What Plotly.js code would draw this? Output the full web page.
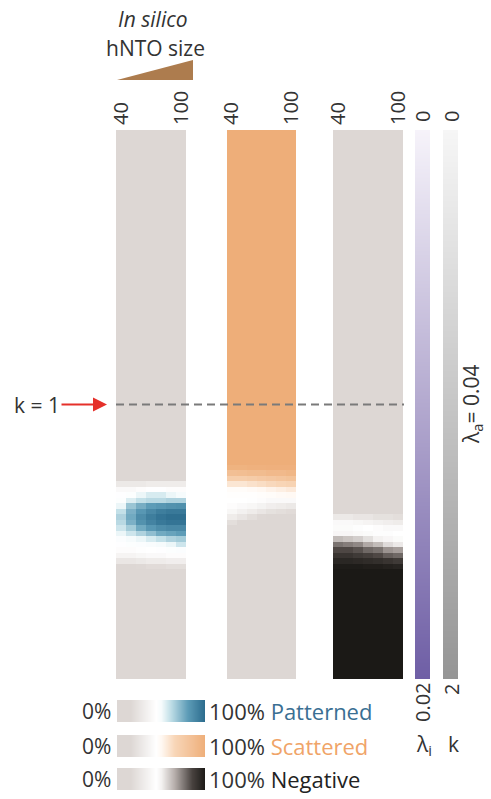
<!DOCTYPE html>
<html><head><meta charset="utf-8">
<script src="https://cdn.plot.ly/plotly-3.0.1.min.js"></script>
<style>html,body{margin:0;padding:0;background:#fff}#chart{width:491px;height:799px}</style>
</head><body><div id="chart"></div>
<script>
// ---------- data ----------
const sizes = [40, 50, 60, 70, 80, 90, 100];          // in silico hNTO size
const sizeTicks = [40, 100];
// k bin edges (rows); fine rows only where the outcome changes
const kEdges = [0, 1.2, 1.22, 1.24, 1.26, 1.28, 1.30, 1.32, 1.34, 1.36, 1.38, 1.40,
                1.42, 1.44, 1.46, 1.48, 1.50, 1.52, 1.54, 1.56, 1.58, 1.60, 1.62, 2.0];
// percent of simulations (0..100)
const patterned = [
  [0,0,0,0,0,0,0],
  [0,0,0,0,0,0,0],
  [0,0,0,0,0,0,0],
  [5,5,5,5,5,5,5],
  [15,15,15,15,15,15,15],
  [28,28,28,30,30,30,30],
  [40,40,42,45,45,42,42],
  [45,46,52,56,56,52,50],
  [46,55,60,62,62,64,64],
  [52,68,75,80,82,84,85],
  [60,74,82,88,92,94,94],
  [64,76,86,92,96,98,98],
  [62,74,84,90,94,96,96],
  [58,66,76,82,86,88,88],
  [52,58,64,70,76,78,80],
  [47,50,52,56,60,64,66],
  [45,46,47,48,50,52,58],
  [42,42,43,44,45,46,47],
  [36,36,38,40,40,42,42],
  [26,26,28,30,30,32,32],
  [14,14,16,18,18,20,20],
  [5,5,6,8,8,10,10],
  [0,0,0,0,0,0,0]
];
const scattered = [
  [100,100,100,100,100,100,100],
  [100,100,100,100,100,100,100],
  [96,96,97,97,98,98,98],
  [85,86,88,88,90,90,92],
  [72,72,74,76,78,80,82],
  [58,58,60,62,64,66,68],
  [47,47,48,50,52,54,56],
  [45,45,45,46,47,48,49],
  [44,44,43,42,40,40,40],
  [42,40,38,35,32,30,28],
  [38,34,30,26,22,20,18],
  [30,25,20,16,12,10,8],
  [20,15,10,8,5,4,3],
  [8,5,3,2,0,0,0],
  [0,0,0,0,0,0,0],
  [0,0,0,0,0,0,0],
  [0,0,0,0,0,0,0],
  [0,0,0,0,0,0,0],
  [0,0,0,0,0,0,0],
  [0,0,0,0,0,0,0],
  [0,0,0,0,0,0,0],
  [0,0,0,0,0,0,0],
  [0,0,0,0,0,0,0]
];
const negative = [
  [0,0,0,0,0,0,0],
  [0,0,0,0,0,0,0],
  [0,0,0,0,0,0,0],
  [0,0,0,0,0,0,0],
  [0,0,0,0,0,0,0],
  [0,0,0,0,0,0,0],
  [0,0,0,0,0,0,0],
  [0,0,0,0,0,0,0],
  [0,0,0,0,0,0,0],
  [5,5,5,5,5,5,5],
  [15,15,12,12,10,10,10],
  [28,28,25,25,22,22,20],
  [40,40,38,36,34,32,30],
  [46,46,45,44,42,40,40],
  [48,48,47,46,45,45,44],
  [62,60,58,54,50,48,46],
  [76,74,72,66,62,55,52],
  [84,84,82,78,76,70,68],
  [90,90,88,86,84,80,78],
  [95,95,94,93,92,90,88],
  [99,99,99,98,98,97,96],
  [100,100,100,100,100,100,100],
  [100,100,100,100,100,100,100]
];
const lambdaI = [0, 0.02];     // lambda_i scale (top -> bottom)
const kScale = [0, 2];         // k scale (top -> bottom)
const legendPct = [0, 100];
const outcomeNames = ['Patterned', 'Scattered', 'Negative'];

// ---------- styling ----------
const W = 491, H = 799;
const px = v => v / W;
const py = v => 1 - v / H;
const GRAY = '#ddd7d4';
const csPatterned = [[0,GRAY],[0.15,GRAY],[0.44,'#ffffff'],[0.5,'#f6fbfc'],[0.6,'#c3e0e8'],[0.8,'#5d9cb7'],[1,'#2a6a8c']];
const csScattered = [[0,GRAY],[0.15,GRAY],[0.44,'#ffffff'],[0.5,'#fff8f2'],[0.65,'#f8d6b8'],[1,'#eeae79']];
const csNegative  = [[0,GRAY],[0.15,GRAY],[0.44,'#ffffff'],[0.5,'#f4f2f1'],[0.65,'#b6aeab'],[0.85,'#48423f'],[1,'#1b1916']];
const csLambda = [[0,'#f6f3fa'],[0.5,'#b3a9cf'],[1,'#6e5ea5']];
const csK = [[0,'#f6f6f6'],[1,'#959595']];
const outcomeColors = ['#3a6f93', '#f0a468', '#222222'];
const TXT = '#333333';
const FONT = 'Open Sans';

function panel(z, cs, xa) {
  return {type:'heatmap', x: sizes, y: kEdges, z: z, colorscale: cs, zmin: 0, zmax: 100,
          showscale: false, xaxis: xa, yaxis: 'y', hoverinfo: 'skip'};
}
const traces = [
  panel(patterned, csPatterned, 'x'),
  panel(scattered, csScattered, 'x2'),
  panel(negative, csNegative, 'x3'),
  {type:'heatmap', x:[0], y: lambdaI, z: lambdaI.map(v => [v]), colorscale: csLambda,
   zmin: lambdaI[0], zmax: lambdaI[1], zsmooth:'best', showscale:false, xaxis:'x4', yaxis:'y2', hoverinfo:'skip'},
  {type:'heatmap', x:[0], y: kScale, z: kScale.map(v => [v]), colorscale: csK,
   zmin: kScale[0], zmax: kScale[1], zsmooth:'best', showscale:false, xaxis:'x5', yaxis:'y', hoverinfo:'skip'},
];
const legCs = [csPatterned, csScattered, csNegative];
legCs.forEach((cs, i) => {
  traces.push({type:'heatmap', x: legendPct, y:[0], z:[legendPct], colorscale: cs, zmin:0, zmax:100,
    zsmooth:'best', showscale:false, xaxis:'x6', yaxis: 'y' + (3 + i), hoverinfo:'skip'});
});

const hidden = {visible:false, showgrid:false, zeroline:false};
const panelX = dom => ({domain: dom, range:[35,105], anchor:'y', side:'top', tickmode:'array',
  tickvals: sizeTicks, ticktext: sizeTicks.map(String), tickangle:-90, ticks:'', showgrid:false,
  zeroline:false, showline:false, ticklabelstandoff:4,
  tickfont:{size:20, color:TXT, family:FONT}, fixedrange:true});
const panelDom = [py(679), py(130)];
const legRows = [[700,722],[735,757],[768,790]];

const annotations = [
  {text:'<i>In silico</i>', x:px(153), y:py(19), font:{size:21}},
  {text:'hNTO size', x:px(155), y:py(48), font:{size:21}},
  {text:'k = 1', x:px(107), y:1, yref:'y', showarrow:true, ax:-70, ay:0, arrowhead:2,
   arrowsize:1.4, arrowwidth:2, arrowcolor:'#e5302a', font:{size:21}},
  {text:'0', x:px(422), y:py(117), textangle:-90, font:{size:20}},
  {text:'0', x:px(451), y:py(117), textangle:-90, font:{size:20}},
  {text:'0.02', x:px(422), y:py(702), textangle:-90, font:{size:20}},
  {text:'2', x:px(451), y:py(690), textangle:-90, font:{size:20}},
  {text:'λ<sub>i</sub>', x:px(424), y:py(745), font:{size:21}},
  {text:'k', x:px(453), y:py(744), font:{size:21}},
  {text:'λ<sub>a</sub>= 0.04', x:px(472), y:py(405), textangle:-90, font:{size:21}},
];
legRows.forEach((r, i) => {
  const yc = py((r[0] + r[1]) / 2);
  annotations.push({text:'0%', x:px(113), y:yc, xanchor:'right', font:{size:21}});
  annotations.push({text:'100% <span style="color:' + outcomeColors[i] + '">' + outcomeNames[i] + '</span>',
    x:px(207), y:yc, xanchor:'left', font:{size:22}});
});
annotations.forEach(a => {
  a.xref = a.xref || 'paper'; a.yref = a.yref || 'paper';
  a.xanchor = a.xanchor || 'center'; a.yanchor = a.yanchor || 'middle';
  if (!a.showarrow) a.showarrow = false;
  a.font = Object.assign({family:FONT, color:TXT}, a.font);
});

const layout = {
  width: W, height: H, margin:{l:0, r:0, t:0, b:0}, paper_bgcolor:'#fff', plot_bgcolor:'rgba(0,0,0,0)',
  showlegend:false, font:{family:FONT, color:TXT},
  xaxis: panelX([px(116), px(186)]),
  xaxis2: panelX([px(227), px(296)]),
  xaxis3: panelX([px(333), px(403)]),
  yaxis: Object.assign({domain: panelDom, range:[kScale[1], kScale[0]], anchor:'x'}, hidden),
  xaxis4: Object.assign({domain:[px(415), px(430)], range:[-0.5, 0.5], anchor:'y2'}, hidden),
  yaxis2: Object.assign({domain: panelDom, range:[lambdaI[1], lambdaI[0]], anchor:'x4'}, hidden),
  xaxis5: Object.assign({domain:[px(443), px(458)], range:[-0.5, 0.5], anchor:'y'}, hidden),
  xaxis6: Object.assign({domain:[px(117), px(205)], range:[legendPct[0], legendPct[1]], anchor:'y3'}, hidden),
  yaxis3: Object.assign({domain:[py(legRows[0][1]), py(legRows[0][0])], range:[-0.5,0.5], anchor:'x6'}, hidden),
  yaxis4: Object.assign({domain:[py(legRows[1][1]), py(legRows[1][0])], range:[-0.5,0.5], anchor:'x6'}, hidden),
  yaxis5: Object.assign({domain:[py(legRows[2][1]), py(legRows[2][0])], range:[-0.5,0.5], anchor:'x6'}, hidden),
  shapes: [
    {type:'line', xref:'paper', yref:'y', x0:px(116), x1:px(404), y0:1, y1:1,
     line:{color:'#7a7a7a', width:2, dash:'8px,5px'}},
    {type:'path', xref:'paper', yref:'paper',
     path:`M ${px(117)},${py(80)} L ${px(193)},${py(80)} L ${px(193)},${py(60)} Z`,
     fillcolor:'#ad7c4e', line:{width:0}}
  ],
  annotations: annotations
};
Plotly.newPlot('chart', traces, layout, {staticPlot:true, displayModeBar:false});
</script></body></html>
